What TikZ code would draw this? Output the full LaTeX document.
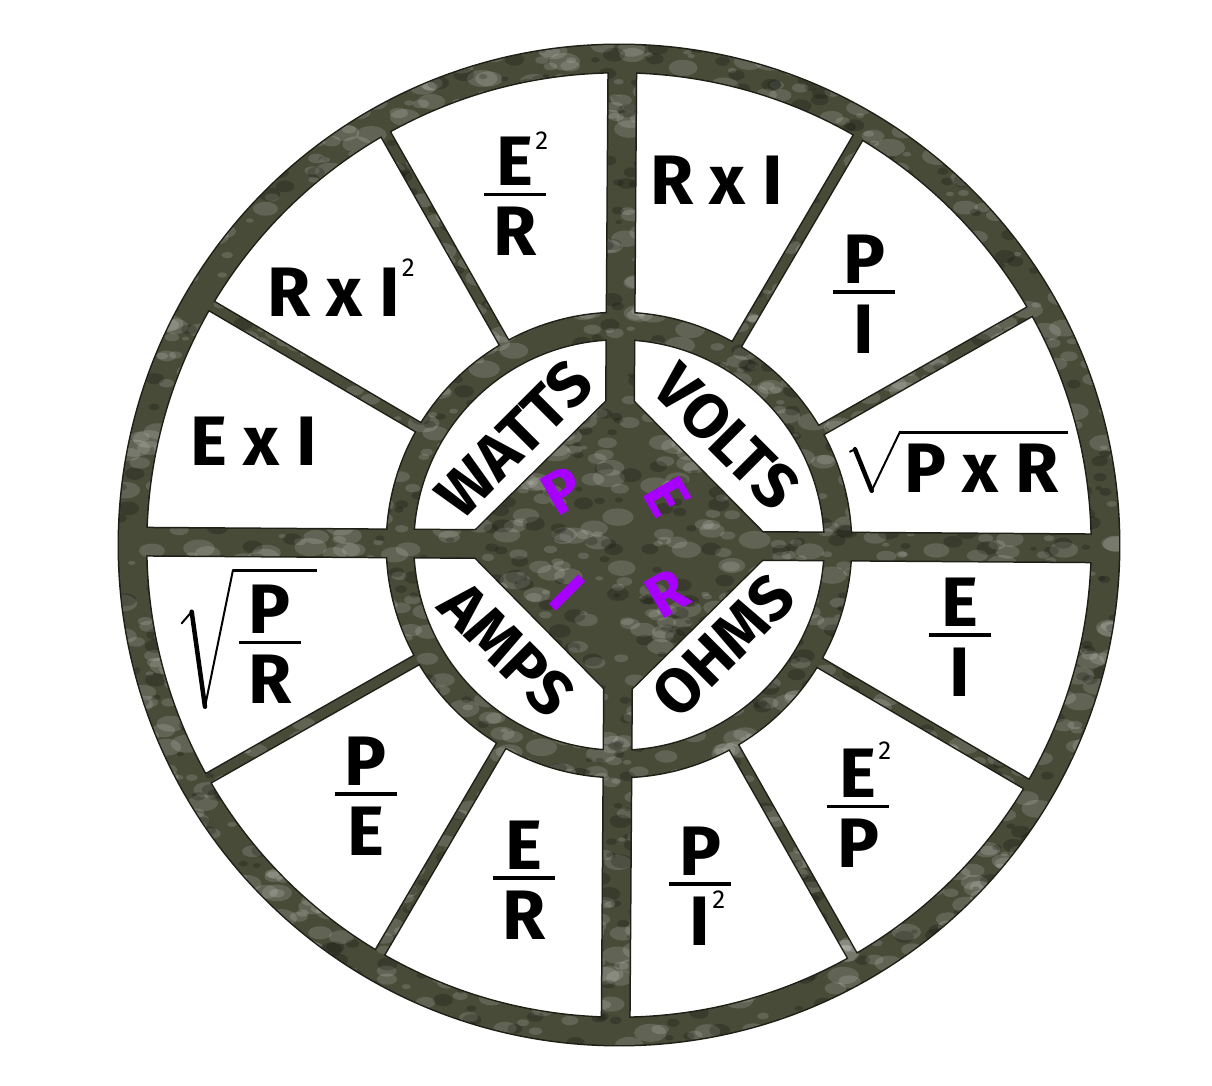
\documentclass[tikz,border=0pt]{standalone}
\usepackage{fontspec}
\setmainfont{Fira Sans}
\definecolor{stone}{RGB}{72,75,56}
\definecolor{stoneedge}{RGB}{30,31,22}
\definecolor{letterpurple}{RGB}{168,0,255}
\newcommand\frameshape{%
  (500,0) arc[start angle=0,end angle=360,radius=500pt] -- (473,0) arc[start angle=360,end angle=0,radius=473pt] -- cycle
  (232,0) arc[start angle=0,end angle=360,radius=232pt] -- (206,0) arc[start angle=360,end angle=0,radius=206pt] -- cycle
  (-486,-13.5) -- (486,-13.5) -- (486,13.5) -- (-486,13.5) -- cycle
  (13.5,-486) -- (13.5,486) -- (-13.5,486) -- (-13.5,-486) -- cycle
  (157,0) -- (0,157) -- (-157,0) -- (0,-157) -- cycle
  foreach \sa in {30,60,120,150,210,240,300,330}{
    (\sa-1.2:219) -- (\sa-0.55:486) -- (\sa+0.55:486) -- (\sa+1.2:219) -- cycle }
}
\newcommand\fracstack[2]{\vbox{\offinterlineskip\halign{\hfil##\hfil\cr#1\cr\noalign{\kern7pt}\rule{62pt}{3.5pt}\cr\noalign{\kern11pt}#2\cr}}}
\newcommand\supii[1][36pt]{\rlap{\smash{\raisebox{#1}{\fontsize{26}{26}\selectfont\mdseries\kern2pt 2}}}}
\begin{document}
\begin{tikzpicture}[x=1pt,y=1pt,
  formula/.style={font=\fontsize{70}{70}\selectfont\bfseries, text=black, inner sep=0pt},
  word/.style={font=\fontsize{63}{63}\selectfont\bfseries, text=black, inner sep=0pt},
  pierletter/.style={font=\fontsize{60}{60}\selectfont\bfseries, text=letterpurple, inner sep=0pt},
  thickrad/.style={line width=4.5pt, line cap=round, black},
  thinrad/.style={line width=2pt, line cap=round, black},
  vinc/.style={line width=3pt, black}
]
\useasboundingbox (-619,-541) rectangle (593,545);
\fill[white] (-619,-541) rectangle (593,545);

% ---------- stone frame ----------
\begin{scope}[rotate=-0.4]
  \draw[stoneedge, line width=3pt] \frameshape;
  \fill[stone] \frameshape;
  \begin{scope}
    \clip \frameshape;
    \pgfmathsetseed{4242}
    \foreach \k in {1,...,2200}{
      \pgfmathsetmacro\tx{1000*rnd-500}
      \pgfmathsetmacro\ty{1000*rnd-500}
      \pgfmathsetmacro\ts{2+7*rnd}
      \pgfmathsetmacro\tsx{1.8*\ts}
      \fill[white,opacity=0.14] (\tx,\ty) ellipse[x radius=\tsx pt, y radius=\ts pt];
    }
    \foreach \k in {1,...,1400}{
      \pgfmathsetmacro\tx{1000*rnd-500}
      \pgfmathsetmacro\ty{1000*rnd-500}
      \pgfmathsetmacro\ts{2+5*rnd}
      \pgfmathsetmacro\tsx{1.6*\ts}
      \fill[black,opacity=0.2] (\tx,\ty) ellipse[x radius=\tsx pt, y radius=\ts pt];
    }
  \end{scope}
\end{scope}

% ---------- inner words ----------
\node[word, rotate=45]  (watts) at (-105,106) {WATTS};
\node[word, rotate=-45] (volts) at (108,108) {VOLTS};
\node[word, rotate=-45] (amps)  at (-112,-104) {AMPS};
\node[word, rotate=45]  (ohms)  at (104,-101) {OHMS};

% ---------- centre letters ----------
\node[pierletter, rotate=30]  (lp) at (-56,55) {P};
\node[pierletter, rotate=-60] (le) at (48,48) {E};
\node[pierletter, rotate=-45] (li) at (-52,-48) {I};
\node[pierletter, rotate=30]  (lr) at (48,-48) {R};

% ---------- WATTS quadrant ----------
\node[formula] (er2) at (-104,348.5) {\fracstack{E\supii}{R}};
\node[formula, anchor=base] (rxi2) at (-285.5,228) {R x I\supii[40pt]};
\node[formula, anchor=base] (exi) at (-365.5,79) {E x I};

% ---------- VOLTS quadrant ----------
\node[formula, anchor=base] (rxi) at (97.5,340) {R x I};
\node[formula] (pi) at (245,251) {\fracstack{P}{I}};
\node[formula, anchor=base] (pxr) at (362.5,52) {P x R};
\draw[thinrad] (231,93.3) -- (236,95.7);
\draw[thickrad] (236,95.7) -- (252.7,54.3);
\draw[thinrad] (252.7,54.3) -- (281,113.3);
\draw[vinc] (281,112.5) -- (449.3,112.5);

% ---------- OHMS quadrant ----------
\node[formula] (ei) at (341,-92) {\fracstack{E}{I}};
\node[formula] (e2p) at (239,-263.5) {\fracstack{E\supii[38pt]}{P}};
\node[formula] (pi2) at (81,-341) {\fracstack{P}{I\supii[37pt]}};

% ---------- AMPS quadrant ----------
\node[formula] (pr) at (-349,-99.5) {\fracstack{P}{R}};
\draw[thinrad] (-437.3,-78.3) -- (-427.3,-66.7);
\draw[thickrad] (-427.3,-66.7) -- (-414,-161.7);
\draw[thinrad] (-414,-161.7) -- (-386,-25);
\draw[vinc] (-386,-26) -- (-302,-26);
\node[formula] (pe) at (-253,-251) {\fracstack{P}{E}};
\node[formula] (er) at (-95,-335) {\fracstack{E}{R}};
\end{tikzpicture}
\end{document}
